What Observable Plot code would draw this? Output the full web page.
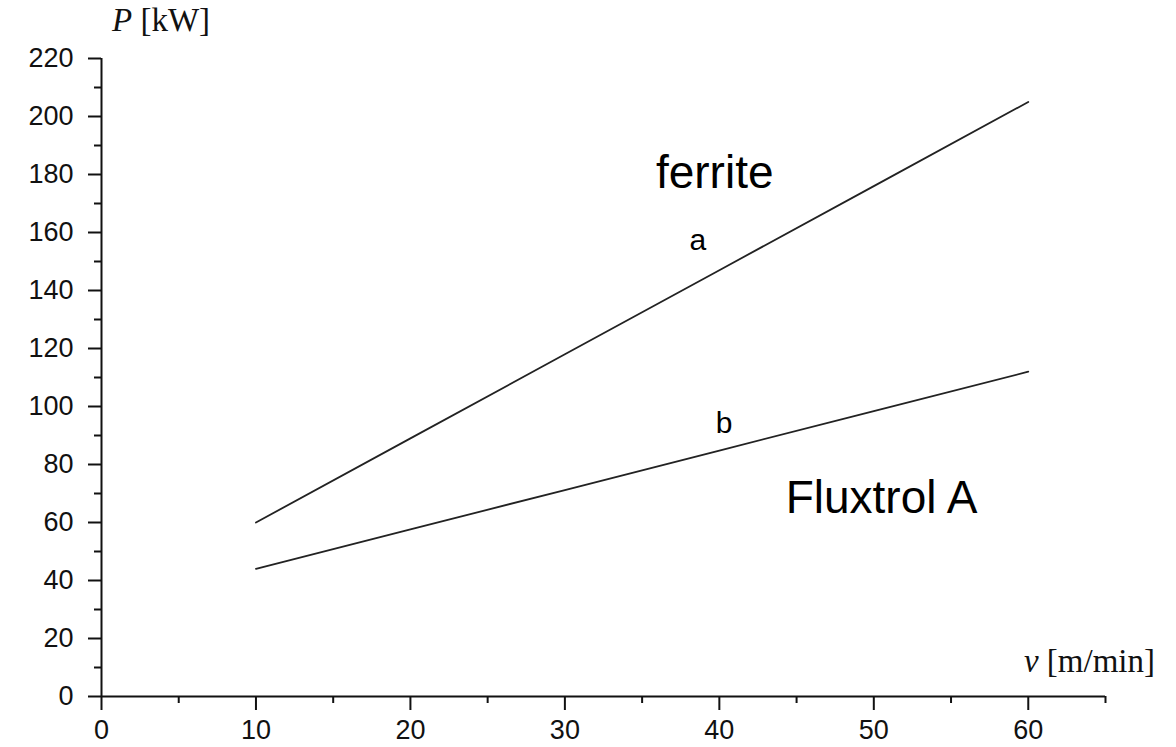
<!DOCTYPE html>
<html>
<head>
<meta charset="utf-8">
<script src="https://cdn.jsdelivr.net/npm/d3@7"></script>
<script src="https://cdn.jsdelivr.net/npm/@observablehq/plot@0.6"></script>
<style>
  html, body { margin: 0; padding: 0; background: #fff; }
  #chart svg { display: block; }
</style>
</head>
<body>
<div id="chart"></div>
<script>
// Data
const speed = [10, 20, 30, 40, 50, 60];                   // v [m/min]
const powerFerrite = [60, 89, 118, 147, 176, 205];        // curve a (ferrite), P [kW]
const powerFluxtrol = [44, 57.6, 71.2, 84.8, 98.4, 112];  // curve b (Fluxtrol A), P [kW]

const xMajorTicks = [0, 10, 20, 30, 40, 50, 60];
const xMinorTicks = [5, 15, 25, 35, 45, 55, 65];
const yMajorTicks = [0, 20, 40, 60, 80, 100, 120, 140, 160, 180, 200, 220];
const yMinorTicks = [10, 30, 50, 70, 90, 110, 130, 150, 170, 190, 210];

const seriesA = speed.map((v, i) => ({v, P: powerFerrite[i]}));
const seriesB = speed.map((v, i) => ({v, P: powerFluxtrol[i]}));

const sans = "Liberation Sans, Arial, sans-serif";

const plot = Plot.plot({
  width: 1176,
  height: 747,
  marginLeft: 101,
  marginRight: 71,
  marginTop: 58,
  marginBottom: 51,
  style: {fontFamily: sans, color: "#111", background: "#fff"},
  x: {domain: [0, 65]},
  y: {domain: [0, 220]},
  marks: [
    Plot.axisX({ticks: xMajorTicks, tickSize: 14, tickPadding: 9, strokeWidth: 2, fontSize: 27, label: null, tickFormat: d => String(d)}),
    Plot.axisX({ticks: xMinorTicks, tickSize: 7, strokeWidth: 2, text: null, label: null}),
    Plot.axisY({ticks: yMajorTicks, tickSize: 13, tickPadding: 15, strokeWidth: 2, fontSize: 27, label: null, tickFormat: d => String(d)}),
    Plot.axisY({ticks: yMinorTicks, tickSize: 7, strokeWidth: 2, text: null, label: null}),
    Plot.ruleY([0], {stroke: "#111", strokeWidth: 2}),
    Plot.ruleX([0], {stroke: "#111", strokeWidth: 2}),
    Plot.line(seriesA, {x: "v", y: "P", stroke: "#222", strokeWidth: 1.8}),
    Plot.line(seriesB, {x: "v", y: "P", stroke: "#222", strokeWidth: 1.8}),
    Plot.text(["ferrite"], {x: 39.7, y: 175.5, text: d => d, fontSize: 46, lineAnchor: "bottom", fill: "#000"}),
    Plot.text(["a"], {x: 38.6, y: 153.8, text: d => d, fontSize: 30, lineAnchor: "bottom", fill: "#000"}),
    Plot.text(["b"], {x: 40.3, y: 91, text: d => d, fontSize: 30, lineAnchor: "bottom", fill: "#000"}),
    Plot.text(["Fluxtrol A"], {x: 50.5, y: 63.4, text: d => d, fontSize: 46, lineAnchor: "bottom", fill: "#000"})
  ]
});

document.getElementById("chart").appendChild(plot);

// Axis titles with italic variable symbol
const svg = d3.select(plot);
const serif = "Liberation Serif, Times New Roman, serif";
const yTitle = svg.append("text")
  .attr("x", 112).attr("y", 31)
  .attr("text-anchor", "start")
  .attr("font-family", serif).attr("font-size", 33).attr("fill", "#111");
yTitle.append("tspan").attr("font-style", "italic").text("P");
yTitle.append("tspan").text(" [kW]");

const xTitle = svg.append("text")
  .attr("x", 1155).attr("y", 672)
  .attr("text-anchor", "end")
  .attr("font-family", serif).attr("font-size", 33).attr("fill", "#111");
xTitle.append("tspan").attr("font-style", "italic").text("v");
xTitle.append("tspan").text(" [m/min]");
</script>
</body>
</html>
